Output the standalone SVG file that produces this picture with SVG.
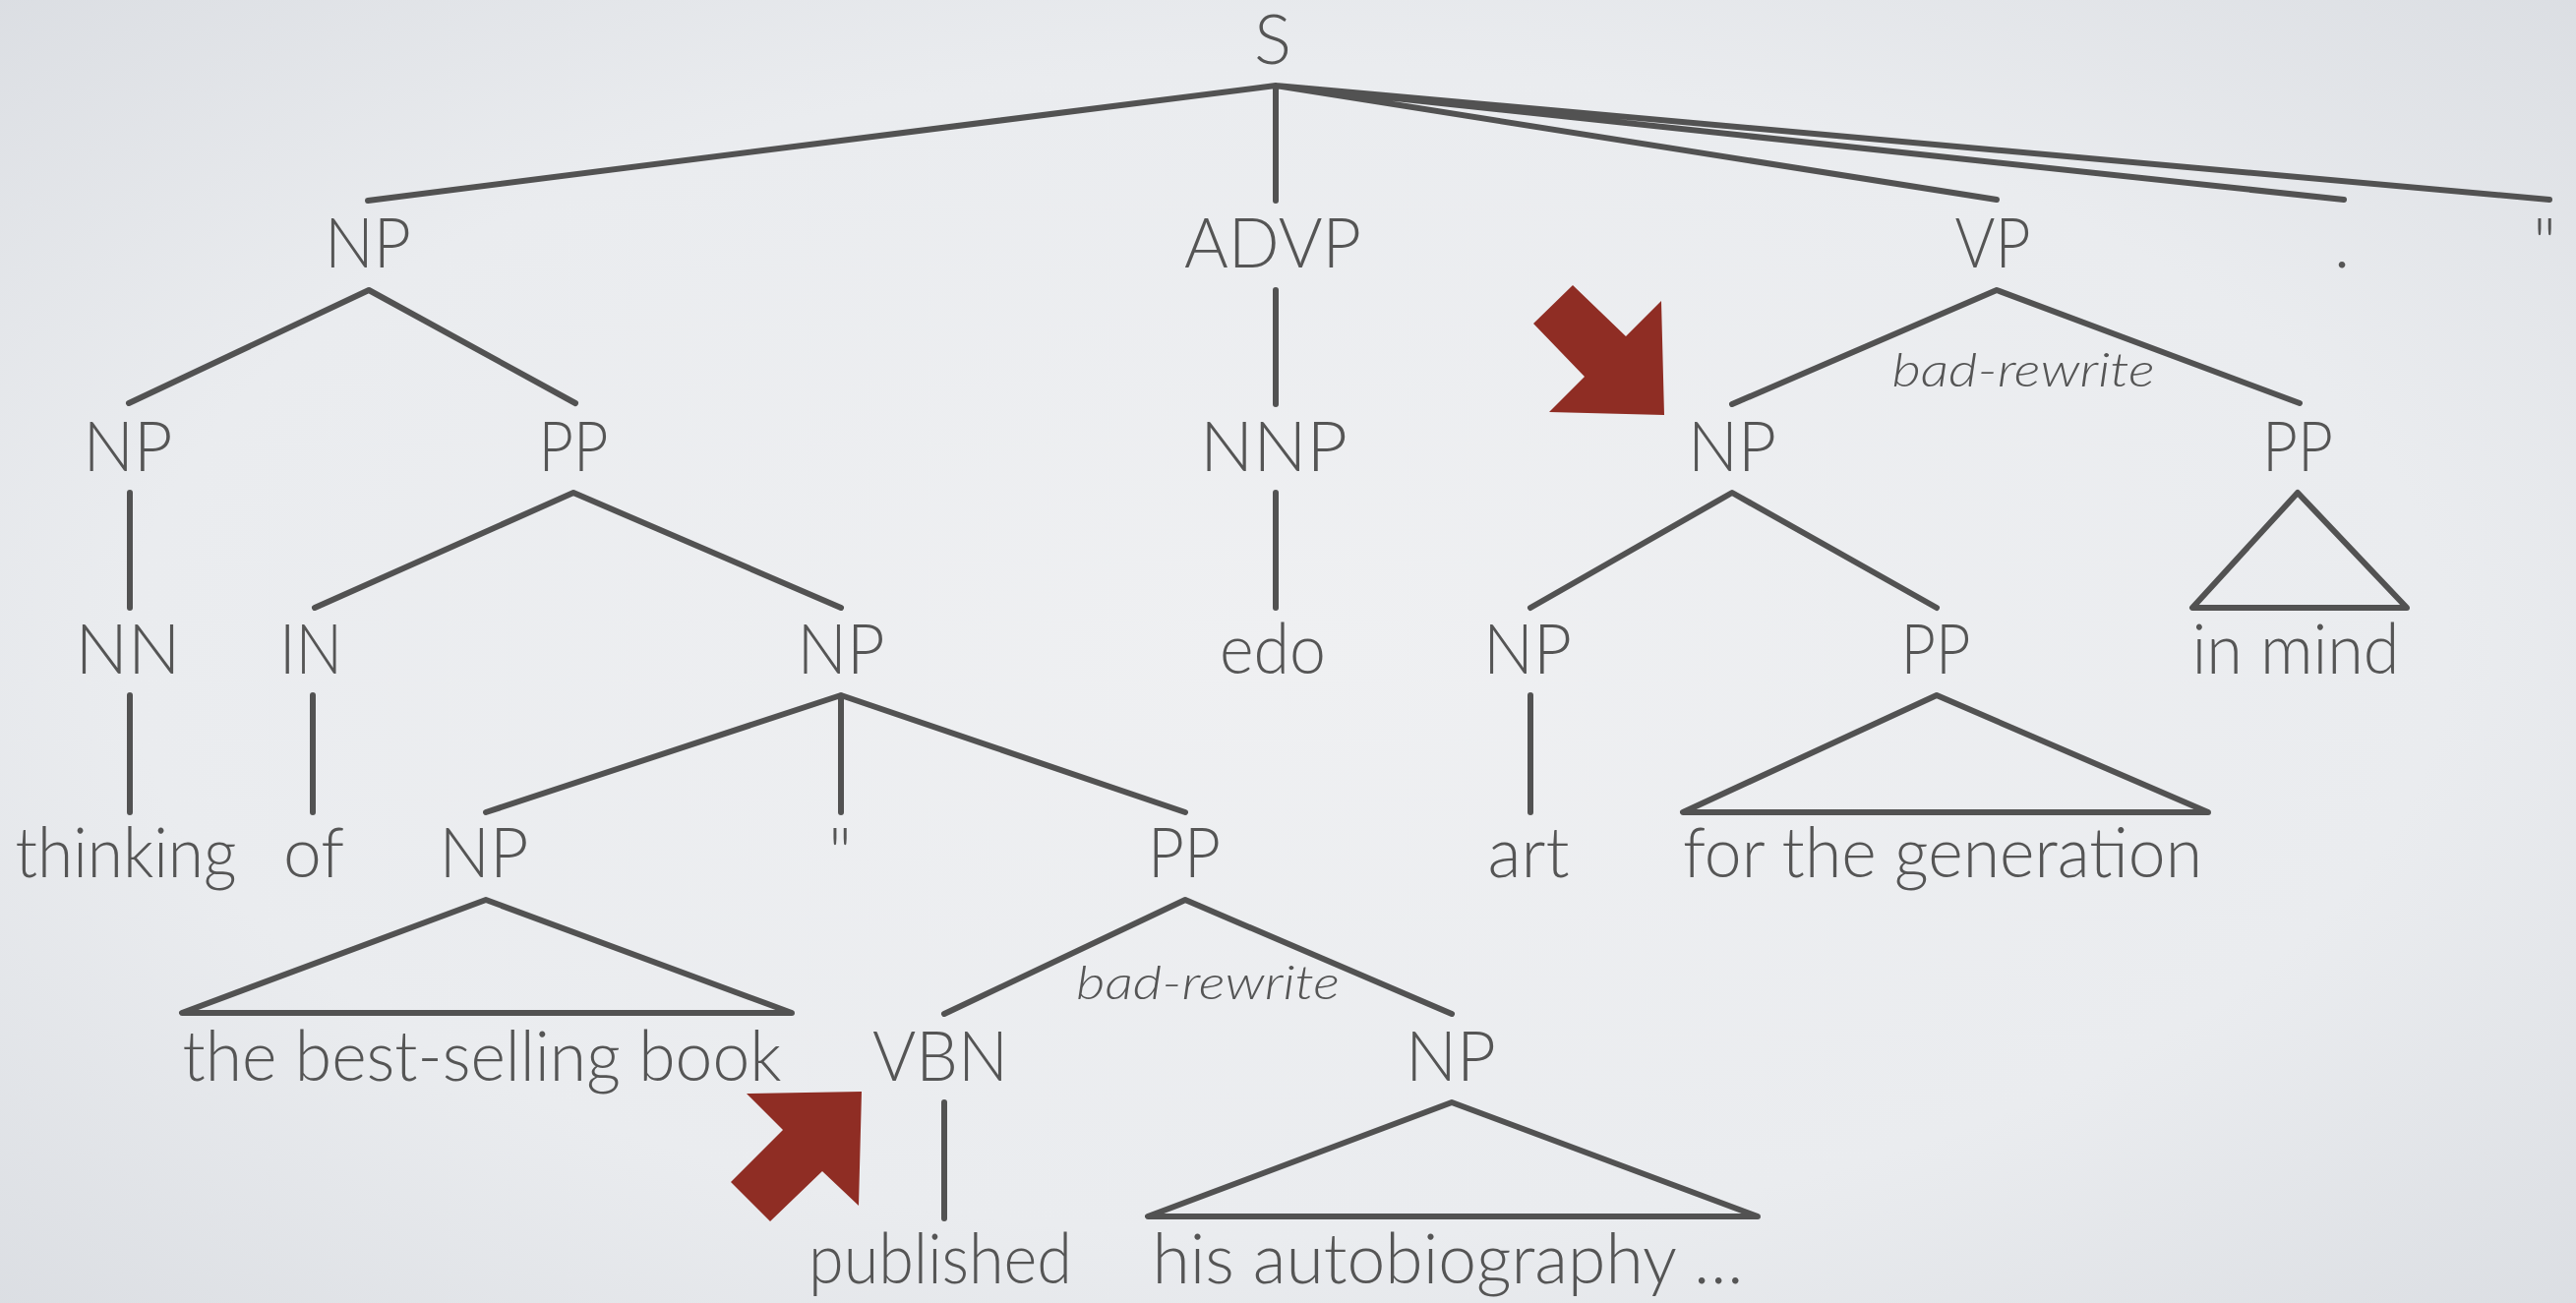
<svg xmlns="http://www.w3.org/2000/svg" width="2619" height="1325" viewBox="0 0 2619 1325">
  <defs>
    <radialGradient id="bg" cx="50%" cy="50%" r="75%">
      <stop offset="0" stop-color="#eff0f2"/>
      <stop offset="0.6" stop-color="#eaecef"/>
      <stop offset="1" stop-color="#d9dce1"/>
    </radialGradient>
    <style>
      .lbl { font-family: Lato, "Open Sans", "Liberation Sans", sans-serif; font-weight: 300; font-size: 71px; fill: #555555; text-anchor: middle; }
      .note { font-family: Lato, "Open Sans", "Liberation Sans", sans-serif; font-weight: 300; font-style: italic; font-size: 47px; fill: #555555; text-anchor: middle; }
      .edge { fill: none; stroke: #525252; stroke-width: 6; stroke-linecap: round; stroke-linejoin: round; }
      .pointer { fill: #8f2d24; }
    </style>
  </defs>

  <rect x="0" y="0" width="2619" height="1325" fill="url(#bg)"/>

  <!-- tree branches -->
  <g id="connectors">
    <!-- S -->
    <path class="edge" d="M1297 87 L374 204 M1297 87 L1297 204 M1297 87 L2030 203 M1297 87 L2383 203 M1297 87 L2592 203"/>
    <!-- NP (thinking of ...) -->
    <path class="edge" d="M131 410 L375 295 L585 410"/>
    <!-- ADVP -->
    <path class="edge" d="M1297 295 L1297 411"/>
    <!-- VP -->
    <path class="edge" d="M1761 411 L2030 295 L2338 410"/>
    <!-- NP -> NN -->
    <path class="edge" d="M132 501 L132 618"/>
    <!-- PP -> IN, NP -->
    <path class="edge" d="M320 618 L583 501 L855 618"/>
    <!-- NNP -> edo -->
    <path class="edge" d="M1297 501 L1297 618"/>
    <!-- NP -> NP, PP -->
    <path class="edge" d="M1556 618 L1761 501 L1969 618"/>
    <!-- PP (in mind) collapsed -->
    <path class="edge" d="M2336 501 L2229 618 L2447 618 Z"/>
    <!-- NN -> thinking, IN -> of -->
    <path class="edge" d="M132 707 L132 826 M318 707 L318 826"/>
    <!-- NP -> NP, '', PP -->
    <path class="edge" d="M494 826 L855 707 L1205 826 M855 707 L855 826"/>
    <!-- NP -> art -->
    <path class="edge" d="M1556 707 L1556 826"/>
    <!-- PP (for the generation) collapsed -->
    <path class="edge" d="M1969 707 L1711 826 L2245 826 Z"/>
    <!-- NP (the best-selling book) collapsed -->
    <path class="edge" d="M494 915 L185 1030 L805 1030 Z"/>
    <!-- PP -> VBN, NP -->
    <path class="edge" d="M960 1031 L1205 915 L1476 1031"/>
    <!-- VBN -> published -->
    <path class="edge" d="M960 1121 L960 1239"/>
    <!-- NP (his autobiography) collapsed -->
    <path class="edge" d="M1476 1121 L1167 1237 L1787 1237 Z"/>
  </g>

  <!-- row 1 -->
  <g id="n-S"><text class="lbl" x="1294" y="65">S</text></g>

  <!-- row 2 -->
  <g id="n-NP1"><text class="lbl" x="374" y="272" textLength="88" lengthAdjust="spacingAndGlyphs">NP</text></g>
  <g id="n-ADVP"><text class="lbl" x="1294" y="272" textLength="180" lengthAdjust="spacingAndGlyphs">ADVP</text></g>
  <g id="n-VP"><text class="lbl" x="2026" y="272" textLength="77" lengthAdjust="spacingAndGlyphs">VP</text></g>
  <g id="n-period"><text class="lbl" x="2381" y="272">.</text></g>
  <g id="n-quote1"><text class="lbl" x="2587" y="272">"</text></g>

  <!-- row 3 -->
  <g id="n-NP2"><text class="lbl" x="130" y="479" textLength="91" lengthAdjust="spacingAndGlyphs">NP</text></g>
  <g id="n-PP1"><text class="lbl" x="583" y="479" textLength="71" lengthAdjust="spacingAndGlyphs">PP</text></g>
  <g id="n-NNP"><text class="lbl" x="1295" y="479" textLength="150" lengthAdjust="spacingAndGlyphs">NNP</text></g>
  <g id="n-NP3"><text class="lbl" x="1761" y="479" textLength="90" lengthAdjust="spacingAndGlyphs">NP</text></g>
  <g id="n-PP2"><text class="lbl" x="2336" y="479" textLength="72" lengthAdjust="spacingAndGlyphs">PP</text></g>
  <g id="e-rewrite1"><text class="note" x="2057" y="393" textLength="267" lengthAdjust="spacingAndGlyphs">bad-rewrite</text></g>

  <!-- row 4 -->
  <g id="n-NN"><text class="lbl" x="130" y="685" textLength="107" lengthAdjust="spacingAndGlyphs">NN</text></g>
  <g id="n-IN"><text class="lbl" x="316" y="685" textLength="64" lengthAdjust="spacingAndGlyphs">IN</text></g>
  <g id="n-NP4"><text class="lbl" x="855" y="685" textLength="89" lengthAdjust="spacingAndGlyphs">NP</text></g>
  <g id="n-edo"><text class="lbl" x="1294" y="685" textLength="108" lengthAdjust="spacingAndGlyphs">edo</text></g>
  <g id="n-NP5"><text class="lbl" x="1553" y="685" textLength="90" lengthAdjust="spacingAndGlyphs">NP</text></g>
  <g id="n-PP3"><text class="lbl" x="1968" y="685" textLength="71" lengthAdjust="spacingAndGlyphs">PP</text></g>
  <g id="n-inmind"><text class="lbl" x="2334" y="685" textLength="211" lengthAdjust="spacingAndGlyphs">in mind</text></g>

  <!-- row 5 -->
  <g id="n-thinking"><text class="lbl" x="128" y="892" textLength="225" lengthAdjust="spacingAndGlyphs">thinking</text></g>
  <g id="n-of"><text class="lbl" x="319" y="892" textLength="62" lengthAdjust="spacingAndGlyphs">of</text></g>
  <g id="n-NP6"><text class="lbl" x="492" y="892" textLength="91" lengthAdjust="spacingAndGlyphs">NP</text></g>
  <g id="n-quote2"><text class="lbl" x="854" y="892">"</text></g>
  <g id="n-PP4"><text class="lbl" x="1204" y="892" textLength="74" lengthAdjust="spacingAndGlyphs">PP</text></g>
  <g id="n-art"><text class="lbl" x="1554" y="892" textLength="83" lengthAdjust="spacingAndGlyphs">art</text></g>
  <g id="n-forgen"><text class="lbl" x="1975" y="892" textLength="528" lengthAdjust="spacingAndGlyphs">for the generation</text></g>

  <!-- row 6 -->
  <g id="n-book"><text class="lbl" x="490" y="1099" textLength="609" lengthAdjust="spacingAndGlyphs">the best-selling book</text></g>
  <g id="n-VBN"><text class="lbl" x="956" y="1099" textLength="138" lengthAdjust="spacingAndGlyphs">VBN</text></g>
  <g id="n-NP7"><text class="lbl" x="1475" y="1099" textLength="92" lengthAdjust="spacingAndGlyphs">NP</text></g>
  <g id="e-rewrite2"><text class="note" x="1228" y="1016" textLength="268" lengthAdjust="spacingAndGlyphs">bad-rewrite</text></g>

  <!-- row 7 -->
  <g id="n-published"><text class="lbl" x="956" y="1305" textLength="268" lengthAdjust="spacingAndGlyphs">published</text></g>
  <g id="n-autobio"><text class="lbl" x="1472" y="1305" textLength="601" lengthAdjust="spacingAndGlyphs">his autobiography …</text></g>

  <!-- highlight arrows -->
  <g id="pointer-NP">
    <polygon class="pointer" points="1599,290 1559,329 1611,383 1575,419 1692,422 1689,306 1653,342"/>
  </g>
  <g id="pointer-VBN">
    <polygon class="pointer" points="759,1112 876,1110 873,1226 836,1191 783,1242 743,1202 796,1149"/>
  </g>
</svg>
